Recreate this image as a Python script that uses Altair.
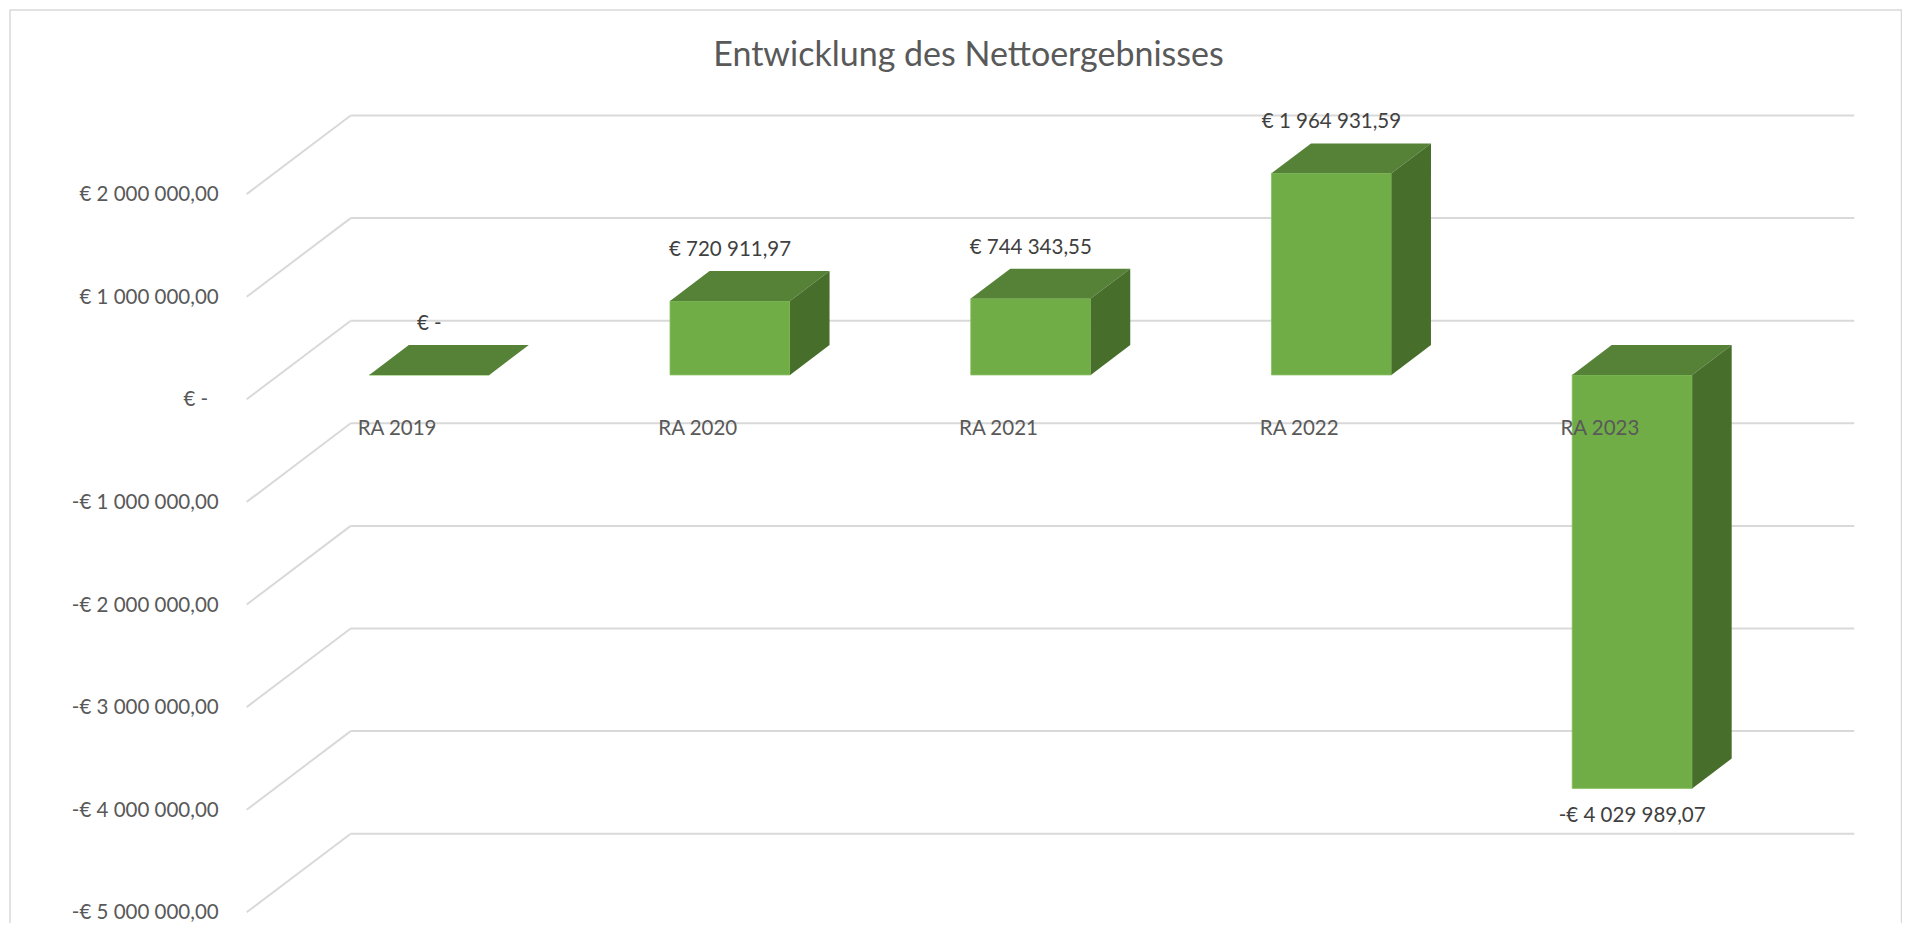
import altair as alt
import pandas as pd

# ---- data ----
categories = ["RA 2019", "RA 2020", "RA 2021", "RA 2022", "RA 2023"]
values = [0.0, 720911.97, 744343.55, 1964931.59, -4029989.07]
tick_values = [2e6, 1e6, 0.0, -1e6, -2e6, -3e6, -4e6, -5e6]
title_text = "Entwicklung des Nettoergebnisses"


def fmt(v):
    if v == 0:
        return "€ -"
    s = f"{abs(v):,.2f}".replace(",", " ").replace(".", ",")
    return ("-€ " if v < 0 else "€ ") + s


# ---- layout (pixels) ----
W, H = 1894, 915
M = 8
X0_PX = 246.7          # page x of slot 0 in front plane
SLOT_PX = 300.72
ZERO_PX = 399.3        # page y of value 0 in front plane
PX_PER_EURO = 102.6e-6
DEPTH_PX_X, DEPTH_PX_Y = 104.0, 78.6

x_dom = [(M - X0_PX) / SLOT_PX, (M + W - X0_PX) / SLOT_PX]
y_dom = [(ZERO_PX - M - H) / PX_PER_EURO, (ZERO_PX - M) / PX_PER_EURO]
DX = DEPTH_PX_X / SLOT_PX
DY = DEPTH_PX_Y / PX_PER_EURO
D_FRONT, D_BACK = 0.31, 0.69
BAR_W = 0.399
N = len(categories)

xs = alt.Scale(domain=x_dom, nice=False, zero=False)
ys = alt.Scale(domain=y_dom, nice=False, zero=False)

GRID = "#D9D9D9"
TXT = "#595959"
FONT = "Lato"
FS = 20.5

# grid table
grid_rows = []
for v in tick_values:
    grid_rows.append(dict(x=DX, x2=N + DX, y=v + DY, y2=v + DY))
    grid_rows.append(dict(x=0.0, x2=DX, y=v, y2=v + DY))
grid_df = pd.DataFrame(grid_rows)

# bars
front_rows, top_rows, side_rows, lab_rows = [], [], [], []
for i, (c, v) in enumerate(zip(categories, values)):
    T, B = max(v, 0.0), min(v, 0.0)
    xl, xr = i + 0.5 - BAR_W / 2, i + 0.5 + BAR_W / 2
    front_rows.append(dict(cat=c, x=xl + D_FRONT * DX, x2=xr + D_FRONT * DX,
                           y=T + D_FRONT * DY, y2=B + D_FRONT * DY))
    for xx, lo, hi in [
        (xl + D_FRONT * DX, T + D_FRONT * DY, T + D_FRONT * DY),
        (xl + D_BACK * DX, T + D_FRONT * DY, T + D_BACK * DY),
        (xr + D_FRONT * DX, T + D_FRONT * DY, T + D_BACK * DY),
        (xr + D_BACK * DX, T + D_BACK * DY, T + D_BACK * DY),
    ]:
        top_rows.append(dict(cat=c, x=xx, y=lo, y2=hi))
    for xx, lo, hi in [
        (xr + D_FRONT * DX, B + D_FRONT * DY, T + D_FRONT * DY),
        (xr + D_BACK * DX, B + D_BACK * DY, T + D_BACK * DY),
    ]:
        side_rows.append(dict(cat=c, x=xx, y=lo, y2=hi))
    lab_rows.append(dict(cat=c, value=v, label=fmt(v), cx=i + 0.5, zero=0.0,
                         lx=i + 0.5 + D_FRONT * DX,
                         ly=(T if v >= 0 else B) + D_FRONT * DY,
                         neg=1 if v < 0 else 0))
front_df = pd.DataFrame(front_rows)
top_df = pd.DataFrame(top_rows)
side_df = pd.DataFrame(side_rows)
lab_df = pd.DataFrame(lab_rows)
tick_df = pd.DataFrame(dict(v=tick_values, label=[fmt(t) for t in tick_values]))
tick_df["xa"] = 0.0

border = alt.Chart(pd.DataFrame({"a": [0]})).mark_rect(
    filled=False, stroke=GRID, strokeWidth=1.5
).encode(x=alt.value(2), x2=alt.value(1893.5), y=alt.value(2), y2=alt.value(H + 40))

grid = alt.Chart(grid_df).mark_rule(color=GRID, strokeWidth=2).encode(
    x=alt.X("x:Q", scale=xs, axis=None), x2="x2:Q",
    y=alt.Y("y:Q", scale=ys, axis=None), y2="y2:Q")

front = alt.Chart(front_df).mark_rect(color="#70AD47", stroke="#86C060", strokeWidth=0.8).encode(
    x=alt.X("x:Q", scale=xs, axis=None), x2="x2:Q",
    y=alt.Y("y:Q", scale=ys, axis=None), y2="y2:Q")

top = alt.Chart(top_df).mark_area(color="#568237", orient="vertical").encode(
    x=alt.X("x:Q", scale=xs, axis=None),
    y=alt.Y("y:Q", scale=ys, axis=None, stack=None), y2="y2:Q",
    detail="cat:N")

side = alt.Chart(side_df).mark_area(color="#476E2B", orient="vertical").encode(
    x=alt.X("x:Q", scale=xs, axis=None),
    y=alt.Y("y:Q", scale=ys, axis=None, stack=None), y2="y2:Q",
    detail="cat:N")

ylab = alt.Chart(tick_df).transform_filter("datum.v != 0").mark_text(
    align="right", baseline="middle", dx=-28, dy=1, font=FONT, fontSize=FS, color=TXT
).encode(x=alt.X("xa:Q", scale=xs, axis=None), y=alt.Y("v:Q", scale=ys, axis=None), text="label:N")

ylab0 = alt.Chart(tick_df).transform_filter("datum.v == 0").mark_text(
    align="right", baseline="middle", dx=-38.5, dy=1, font=FONT, fontSize=FS, color=TXT
).encode(x=alt.X("xa:Q", scale=xs, axis=None), y=alt.Y("v:Q", scale=ys, axis=None), text="label:N")

catlab = alt.Chart(lab_df).mark_text(
    align="center", baseline="middle", dy=30, font=FONT, fontSize=FS, color=TXT
).encode(x=alt.X("cx:Q", scale=xs, axis=None), y=alt.Y("zero:Q", scale=ys, axis=None), text="cat:N")

vlab_pos = alt.Chart(lab_df).transform_filter("datum.neg == 0").mark_text(
    align="center", baseline="middle", dy=-51, font=FONT, fontSize=FS, color="#404040"
).encode(x=alt.X("lx:Q", scale=xs, axis=None), y=alt.Y("ly:Q", scale=ys, axis=None), text="label:N")

vlab_neg = alt.Chart(lab_df).transform_filter("datum.neg == 1").mark_text(
    align="center", baseline="middle", dy=28, font=FONT, fontSize=FS, color="#404040"
).encode(x=alt.X("lx:Q", scale=xs, axis=None), y=alt.Y("ly:Q", scale=ys, axis=None), text="label:N")

title = alt.Chart(pd.DataFrame({"t": [title_text]})).mark_text(
    align="center", baseline="middle", font=FONT, fontSize=34, color=TXT
).encode(x=alt.value(960.5), y=alt.value(48), text="t:N")

chart = alt.layer(
    border, grid, front, top, side, ylab, ylab0, catlab, vlab_pos, vlab_neg, title
).properties(
    width=W, height=H, autosize=alt.AutoSizeParams(type="none"), padding=0
).configure_view(stroke=None)

chart.save("out.html", embed_options={"renderer": "svg", "actions": False})
